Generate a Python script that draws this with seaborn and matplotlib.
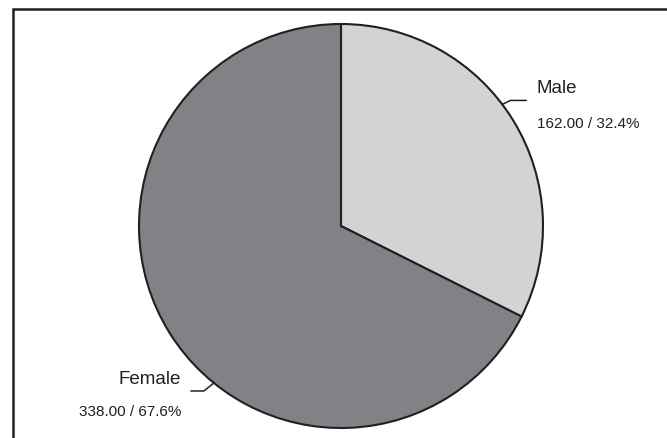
import numpy as np
import matplotlib
matplotlib.use("Agg")
import matplotlib.pyplot as plt
import seaborn as sns

# ----------- data -----------
labels = ["Male", "Female"]
values = [162.00, 338.00]
colors = ["#d1d3d4", "#808285"]
# angle (deg) where each leader line leaves the pie
leader_angles = [37, -129]

sns.set_style("white")
plt.rcParams["font.family"] = ["Liberation Sans", "DejaVu Sans"]
ink = "#231f20"

fig = plt.figure(figsize=(6.67, 4.39), dpi=100)
ax = fig.add_axes([0, 0, 1, 1])

cx, cy, r = 341, 212, 202
ax.pie(values, colors=sns.color_palette(colors), startangle=90, counterclock=False,
       center=(cx, cy), radius=r, frame=True,
       wedgeprops=dict(edgecolor=ink, linewidth=1.5))
ax.set_xlim(0, 667)
ax.set_ylim(0, 439)
ax.set_aspect("equal")
ax.axis("off")

# frame (only top / left visible)
ax.plot([12.5, 12.5, 667], [0, 429, 429], color=ink, lw=1.8, solid_joinstyle="miter")

total = sum(values)
for lab, v, a in zip(labels, values, leader_angles):
    t = np.deg2rad(a)
    x0, y0 = cx + r * np.cos(t), cy + r * np.sin(t)
    right = np.cos(t) > 0
    side = 1 if right else -1
    x1 = x0 + side * (8 if right else 10)
    y1 = y0 + (4 if right else -8)
    x2 = x1 + side * (16 if right else 13)
    ax.plot([x0, x1, x2], [y0, y1, y1], color=ink, lw=1.1)
    ha = "left" if right else "right"
    ax.text(x2 + side * 10, y1 + (13 if right else 12), lab, ha=ha, va="center",
            fontsize=13.5, color=ink)
    vx = x2 + 11 if right else x2 - 10
    ax.text(vx, y1 - (23 if right else 20), f"{v:.2f} / {v / total * 100:.1f}%",
            ha=ha, va="center", fontsize=11, color=ink)

fig.savefig("out.png", dpi=100)
